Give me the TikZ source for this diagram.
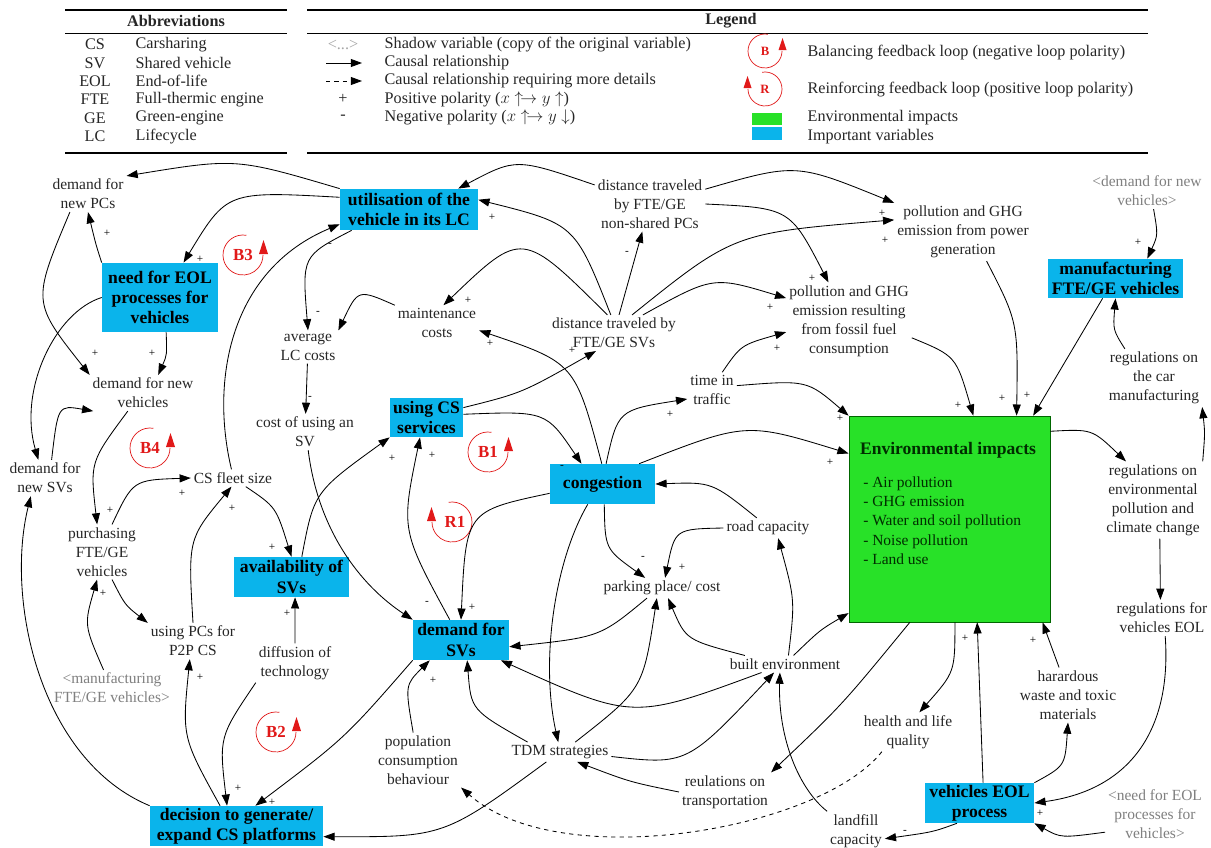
\documentclass[tikz,border=0pt]{standalone}
\usepackage{fontspec}
\setmainfont{Liberation Serif}
\usepackage{amsmath}
\usepackage{tikz}
\usetikzlibrary{arrows.meta}

\definecolor{impblue}{RGB}{10,180,235}
\definecolor{envgreen}{RGB}{40,225,40}
\definecolor{loopred}{RGB}{225,25,25}
\definecolor{envtext}{RGB}{0,45,0}

\newcommand{\lblfont}{\fontsize{11}{13.5}\selectfont}
\newcommand{\impfont}{\fontsize{12.5}{14.5}\selectfont\bfseries}
\newcommand{\legfont}{\fontsize{11.5}{13}\selectfont}
\newcommand{\polfont}{\fontsize{8}{8}\selectfont}
\newcommand{\loopfont}{\fontsize{12}{12}\selectfont\bfseries}

\begin{document}
\begin{tikzpicture}[x=0.025cm, y=-0.025cm,
    lbl/.style={align=center, font=\lblfont, inner sep=2pt, text=black!85},
    shadowvar/.style={lbl, text=black!50},
    imp/.style={fill=impblue, align=center, font=\impfont, inner sep=1pt, minimum height=1cm},
    envbox/.style={fill=envgreen, draw=black!60!green, minimum width=5.03cm, minimum height=5.15cm, inner sep=0pt},
    cl/.style={-{Triangle[length=2.8mm,width=2mm]}, line width=0.6pt},
    cldash/.style={cl, dashed},
    pol/.style={font=\polfont, inner sep=0pt},
    fbloop/.style={loopred, line width=0.5pt},
    looplbl/.style={text=loopred, font=\loopfont, inner sep=0pt},
    legtxt/.style={font=\legfont, inner sep=1pt, text=black!85}]

  \path[use as bounding box, fill=white] (0,0) rectangle (1211,848);

  % abbreviations
  \draw[line width=0.8pt] (65,10) -- (287,10);
  \draw[line width=0.6pt] (65,33) -- (287,33);
  \draw[line width=0.8pt] (65,153) -- (287,153);
  \node[legtxt, font=\legfont\bfseries] (abtitle) at (176,21) {Abbreviations};
  \foreach \ab/\full [count=\i] in {CS/Carsharing, SV/Shared vehicle, EOL/End-of-life,
      FTE/Full-thermic engine, GE/Green-engine, LC/Lifecycle} {
    \node[legtxt] (ab\i) at (95,{44.5+18.4*(\i-1)}) {\ab};
    \node[legtxt, anchor=west] (abf\i) at (134,{44.5+18.4*(\i-1)}) {\full};
  }

  % legend
  \draw[line width=0.8pt] (307,10) -- (1148,10);
  \draw[line width=0.6pt] (307,33) -- (1148,33);
  \draw[line width=0.8pt] (307,153) -- (1148,153);
  \node[legtxt, font=\legfont\bfseries] (legtitle) at (731,21) {Legend};
  \node[legtxt, text=black!35] (lgs) at (343,45) {<...>};
  \coordinate (lga1) at (326,63);
  \coordinate (lgb1) at (362,63);
  \coordinate (lga2) at (326,81);
  \coordinate (lgb2) at (362,81);
  \draw[cl] (lga1) -- (lgb1);
  \draw[cldash] (lga2) -- (lgb2);
  \node[legtxt] (lgp) at (343,99) {+};
  \node[legtxt] (lgm) at (343,117) {-};
  \node[legtxt, anchor=west] (lt1) at (383,45) {Shadow variable (copy of the original variable)};
  \node[legtxt, anchor=west] (lt2) at (383,63) {Causal relationship};
  \node[legtxt, anchor=west] (lt3) at (383,81) {Causal relationship requiring more details};
  \node[legtxt, anchor=west] (lt4) at (383,99) {Positive polarity ($x \uparrow\!\rightarrow y \uparrow$)};
  \node[legtxt, anchor=west] (lt5) at (383,117) {Negative polarity ($x \uparrow\!\rightarrow y \downarrow$)};
  \begin{scope}[shift={(765,51)}, x=0.025cm, y=0.025cm]
    \draw[fbloop] (80:17) arc[start angle=80, end angle=360, radius=17];
    \fill[loopred] (13.5,1) -- (21.5,1) -- (17.5,13) -- cycle;
  \end{scope}
  \node[looplbl, font=\fontsize{9}{9}\selectfont\bfseries] (lgb) at (765,51) {B};
  \begin{scope}[shift={(765,89)}, x=0.025cm, y=0.025cm]
    \draw[fbloop] (100:17) arc[start angle=100, end angle=-180, radius=17];
    \fill[loopred] (-13.5,1) -- (-21.5,1) -- (-17.5,13) -- cycle;
  \end{scope}
  \node[looplbl, font=\fontsize{9}{9}\selectfont\bfseries] (lgr) at (765,89) {R};
  \fill[envgreen] (752,113) rectangle (782,125);
  \fill[impblue] (752,127) rectangle (782,140);
  \node[legtxt, anchor=west] (lt6) at (806,53) {Balancing feedback loop (negative loop polarity)};
  \node[legtxt, anchor=west] (lt7) at (806,90) {Reinforcing feedback loop (positive loop polarity)};
  \node[legtxt, anchor=west] (lt8) at (806,118) {Environmental impacts};
  \node[legtxt, anchor=west] (lt9) at (806,137) {Important variables};

  % variables
  \node[lbl] (dnpc) at (88,194) {demand for\\new PCs};
  \node[imp, minimum width=3.45cm, minimum height=1.03cm] (util) at (409,209.5) {utilisation of the\\vehicle in its LC};
  \node[imp, minimum width=2.9cm, minimum height=1.73cm] (eolneed) at (160,297.5) {need for EOL\\processes for\\vehicles};
  \node[lbl] (avgc) at (308,347) {average\\LC costs};
  \node[lbl] (dnv) at (143,393) {demand for new\\vehicles};
  \node[lbl] (maint) at (437,323) {maintenance\\costs};
  \node[lbl] (dsv) at (614,333) {distance traveled by\\FTE/GE SVs};
  \node[lbl] (dpc) at (650,204) {distance traveled\\by FTE/GE\\non-shared PCs};
  \node[lbl] (ppow) at (963,232) {pollution and GHG\\emission from power\\generation};
  \node[lbl] (pfuel) at (849,321) {pollution and GHG\\emission resulting\\from fossil fuel\\consumption};
  \node[lbl] (ttraf) at (712,390) {time in\\traffic};
  \node[imp, minimum width=3.38cm, minimum height=0.98cm] (manuf) at (1115.5,278.5) {manufacturing\\FTE/GE vehicles};
  \node[shadowvar] (shdnv) at (1147,191) {<demand for new\\vehicles>};
  \node[lbl] (regcar) at (1154,378) {regulations on\\the car\\manufacturing};
  \node[envbox] (env) at (949.5,519) {};
  \node[font=\impfont, text=envtext, inner sep=0pt] (envt) at (948,450) {Environmental impacts};
  \node[font=\fontsize{11}{13.8}\selectfont, text=envtext, align=left, anchor=north west, inner sep=0pt] (envl) at (863,476)
    {- Air pollution\\- GHG emission\\- Water and soil pollution\\- Noise pollution\\- Land use};
  \node[lbl] (regenv) at (1153,500) {regulations on\\environmental\\pollution and\\climate change};
  \node[lbl] (regeol) at (1162,618) {regulations for\\vehicles EOL};
  \node[lbl] (costsv) at (305,432) {cost of using an\\SV};
  \node[lbl] (dnsv) at (45,478) {demand for\\new SVs};
  \node[lbl] (fleet) at (233,478) {CS fleet size};
  \node[lbl] (purch) at (102,552) {purchasing\\FTE/GE\\vehicles};
  \node[imp, minimum width=2.88cm] (avail) at (291.5,577) {availability of\\SVs};
  \node[lbl] (p2p) at (193,641) {using PCs for\\P2P CS};
  \node[imp, minimum width=1.83cm, minimum height=0.98cm] (usecs) at (426.5,417.5) {using CS\\services};
  \node[imp, minimum width=2.63cm] (cong) at (602.5,484) {congestion};
  \node[lbl] (road) at (768,528) {road capacity};
  \node[lbl] (park) at (662,588) {parking place/ cost};
  \node[imp, minimum width=2.4cm] (dsvs) at (461,640) {demand for\\SVs};
  \node[lbl] (diff) at (295,663) {diffusion of\\technology};
  \node[shadowvar] (shmanuf) at (112,688) {<manufacturing\\FTE/GE vehicles>};
  \node[imp, minimum width=4.33cm] (decis) at (236.5,826) {decision to generate/\\expand CS platforms};
  \node[lbl] (popc) at (418,760) {population\\consumption\\behaviour};
  \node[lbl] (tdm) at (560,752) {TDM strategies};
  \node[lbl] (built) at (785,664) {built environment};
  \node[lbl] (regtr) at (725,792) {reulations on\\transportation};
  \node[lbl] (health) at (908,732) {health and life\\quality};
  \node[lbl] (hazw) at (1068,695) {harardous\\waste and toxic\\materials};
  \node[imp, minimum width=2.73cm] (veol) at (979.5,803) {vehicles EOL\\process};
  \node[lbl] (landf) at (856,831) {landfill\\capacity};
  \node[shadowvar] (sheol) at (1155,814) {<need for EOL\\processes for\\vehicles>};

  % feedback loops
  \foreach \lx/\ly/\lt [count=\i] in {243/255/B3, 150/448/B4, 488/452/B1, 276/732/B2} {
    \begin{scope}[shift={(\lx,\ly)}, x=0.025cm, y=0.025cm]
      \draw[fbloop] (80:20) arc[start angle=80, end angle=360, radius=20];
      \fill[loopred] (16,1) -- (25,1) -- (20.5,15) -- cycle;
    \end{scope}
    \node[looplbl] (bl\i) at (\lx,\ly) {\lt};
  }
  \begin{scope}[shift={(452,522)}, x=0.025cm, y=0.025cm]
    \draw[fbloop] (100:20) arc[start angle=100, end angle=-180, radius=20];
    \fill[loopred] (-16,1) -- (-25,1) -- (-20.5,15) -- cycle;
  \end{scope}
  \node[looplbl] (rl1) at (455,522) {R1};

  % causal links
  \draw[cl] (util.north west) .. controls (236,158) .. (dnpc.north east);
  \draw[cl] (util.170) .. controls (227,191) .. (eolneed.56);
  \draw[cl] (eolneed.north west) .. controls (96,245) .. (dnpc.south);
  \draw[cl] (dnpc.-135) .. controls (32,302) .. (dnv.north west);
  \draw[cl] (eolneed.-80) .. controls (167,355) .. (dnv.50);
  \draw[cl] (eolneed.west) .. controls (55,312) and (18,390) .. (dnsv.110);
  \draw[cl] (dnsv.70) .. controls (58,405) .. (dnv.200);
  \draw[cl] (dnv.230) .. controls (90,462) .. (purch.100);
  \draw[cl] (purch.70) .. controls (133,480) .. (fleet.west);
  \draw[cl] (purch.-70) .. controls (125,605) .. (p2p.north west);
  \draw[cl] (shmanuf.115) .. controls (84,625) .. (purch.260);
  \draw[cl] (p2p.north) .. controls (188,539) .. (fleet.260);
  \draw[cl] (fleet.-34) .. controls (276,507) .. (avail.north);
  \draw[cl] (diff.north) -- (avail.-80);
  \draw[cl] (avail.63) .. controls (314,492) .. (usecs.south west);
  \draw[cl] (costsv.-80) .. controls (318,530) and (360,585) .. (dsvs.north west);
  \draw[cl] (avgc) -- (costsv);
  \draw[cl] (util.200) .. controls (302,256) .. (avgc.north);
  \draw[cl] (maint.north west) .. controls (358,289) .. (avgc.north east);
  \draw[cl] (dsv.100) .. controls (575,224) .. (util.8);
  \draw[cl] (dpc.161) .. controls (516,158) .. (util.23);
  \draw[cl] (dsv.110) .. controls (522,230) .. (maint.70);
  \draw[cl] (dsv) -- (dpc);
  \draw[cl] (dsv.32) .. controls (713,276) .. (pfuel.160);
  \draw[cl] (dsv.45) .. controls (734,233) .. (ppow.170);
  \draw[cl] (dpc.15) .. controls (796,163) .. (ppow.north west);
  \draw[cl] (dpc.east) .. controls (790,208) .. (pfuel.118);
  \draw[cl] (usecs.15) .. controls (522,393) .. (dsv.225);
  \draw[cl] (ppow.-51) .. controls (1018,322) .. (env.57);
  \draw[cl] (pfuel.-15) .. controls (956,356) .. (env.77);
  \draw[cl] (manuf.-123) -- (env.51);
  \draw[cl] (shdnv.-70) .. controls (1158,235) .. (manuf.32);
  \draw[cl] (regcar.135) .. controls (1113,330) .. (manuf.south);
  \draw[cl] (regenv.north east) .. controls (1205,433) .. (regcar.south east);
  \draw[cl] (env.41) .. controls (1092,429) .. (regenv.125);
  \draw[cl] (regenv.-80) -- (regeol.95);
  \draw[cl] (regeol.-80) .. controls (1172,730) and (1130,790) .. (veol.east);
  \draw[cl] (sheol.200) .. controls (1061,838) .. (veol.south east);
  \draw[cl] (veol.80) -- (env.-75);
  \draw[cl] (hazw.108) -- (env.-48);
  \draw[cl] (veol.north east) .. controls (1065,766) .. (hazw.south);
  \draw[cl] (veol.222) .. controls (933,832) .. (landf.-15);
  \draw[cl] (env.-87) .. controls (955,672) .. (health.60);
  \draw[cl] (env.-111) .. controls (842,705) .. (regtr.north east);
  \draw[cl] (built.45) .. controls (820,630) .. (env.-137);
  \draw[cl] (ttraf.10) .. controls (807,380) .. (env.north west);
  \draw[cl] (ttraf.60) .. controls (741,345) .. (pfuel.190);
  \draw[cl] (cong.80) .. controls (618,410) .. (ttraf.200);
  \draw[cl] (cong.29) .. controls (746,422) .. (env.147);
  \draw[cl] (road.138) .. controls (712,482) .. (cong.east);
  \draw[cl] (road.west) .. controls (675,529) .. (park.73);
  \draw[cl] (cong.-85) .. controls (605,549) .. (park.149);
  \draw[cl] (park.214) .. controls (600,637) .. (dsvs.-8);
  \draw[cl] (cong.190) .. controls (466,511) .. (dsvs.north);
  \draw[cl] (dsvs.119) .. controls (401,530) .. (usecs.-108);
  \draw[cl] (usecs.5) .. controls (546,411) .. (cong.136);
  \draw[cl] (cong.92) .. controls (575,363) .. (maint.-10);
  \draw[cl] (cong.-126) .. controls (555,560) and (540,660) .. (tdm.100);
  \draw[cl] (tdm.33) .. controls (643,689) .. (park.-117);
  \draw[cl] (built.168) .. controls (686,640) .. (park.-59);
  \draw[cl] (built.200) .. controls (633,720) .. (dsvs.-27);
  \draw[cl] (tdm.163) .. controls (471,710) .. (dsvs.-73);
  \draw[cl] (tdm.-5) .. controls (687,765) .. (built.-142);
  \draw[cl] (regtr.west) .. controls (630,782) .. (tdm.-30);
  \draw[cl] (tdm.-144) .. controls (444,837) .. (decis.-7);
  \draw[cl] (dsvs.south west) .. controls (345,738) .. (decis.47);
  \draw[cl] (diff.south west) .. controls (219,737) .. (decis.115);
  \draw[cl] (decis.129) .. controls (182,737) .. (p2p.-100);
  \draw[cl] (decis.north west) .. controls (40,760) and (5,600) .. (dnsv.-128);
  \draw[cl] (fleet.100) .. controls (210,380) and (230,270) .. (util.192);
  \draw[cldash] (health.-143) .. controls (820,830) and (560,875) .. (popc.south east);
  \draw[cl] (popc.100) .. controls (405,685) .. (dsvs.-147);
  \draw[cl] (landf.north west) .. controls (800,790) and (778,740) .. (built.-121);
  \draw[cl] (built.68) .. controls (795,600) .. (road.-45);

  % polarities
  \foreach \px/\py/\s [count=\i] in {107/233/+, 200/259/+, 95/353/+, 152/353/+, 342/325/+, 318/313/-,
      330/245/-, 310/398/-, 182/493/+, 110/510/+, 232/508/+, 272/547/+, 392/458/+, 103/593/+,
      287/613/+, 492/217/+, 627/253/-, 468/300/+, 490/343/+, 572/350/+, 812/278/+, 770/307/+,
      777/348/+, 670/414/+, 882/213/+, 885/240/+, 1138/242/+, 958/405/+, 1002/398/+, 1027/395/+,
      840/418/+, 432/455/+, 562/467/-, 643/558/-, 682/567/+, 427/603/-, 472/607/+, 830/462/+,
      965/638/+, 1033/640/+, 200/677/+, 238/788/+, 272/802/+, 433/680/+, 1040/813/+, 905/832/-}
    \node[pol] (pol\i) at (\px,\py) {\s};
\end{tikzpicture}
\end{document}
